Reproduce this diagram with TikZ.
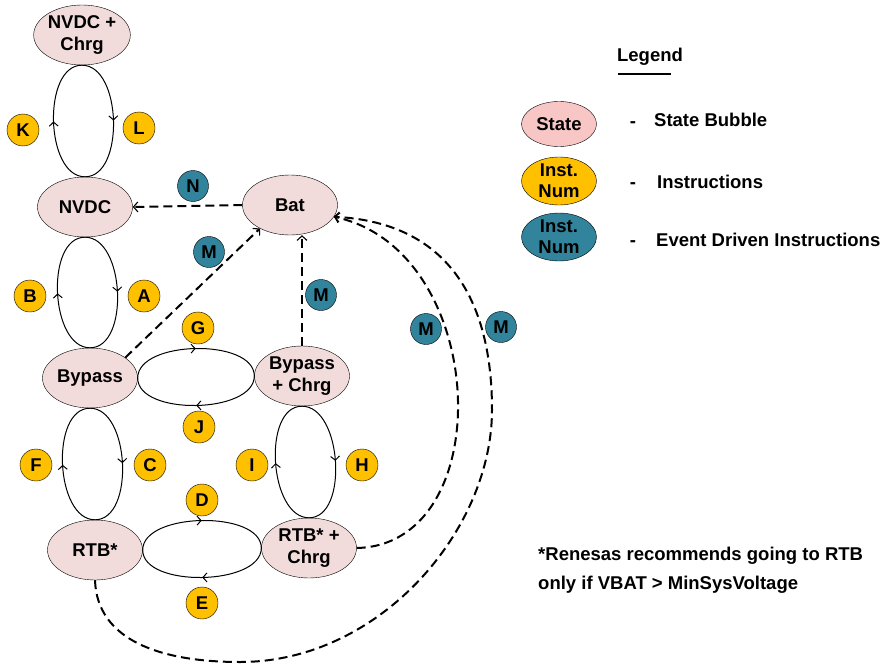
\documentclass[tikz,border=0pt]{standalone}
\usepackage{fontspec}
\setmainfont{Liberation Sans}
\usetikzlibrary{shapes.geometric,arrows.meta,decorations.markings}
\definecolor{statepink}{HTML}{F2DCDB}
\definecolor{legpink}{HTML}{F9C6C6}
\definecolor{instyellow}{HTML}{FFC000}
\definecolor{eventteal}{HTML}{31849B}
\begin{document}
\begin{tikzpicture}[x=1pt, y=-1pt, font=\fontsize{18.5}{22}\selectfont\bfseries,
	state/.style={ellipse, draw=black, fill=statepink, minimum width=95pt, minimum height=60pt, inner sep=0pt, align=center},
	inst/.style={circle, draw=black, fill=instyellow, minimum size=32pt, inner sep=0pt},
	event/.style={circle, draw=black, fill=eventteal, minimum size=31pt, inner sep=0pt},
	loopline/.style={line width=1pt, postaction={decorate}, decoration={markings, mark=at position 0.5 with {\arrow{Straight Barb[length=4pt,width=9pt,line width=1pt]}}}},
	evline/.style={line width=2pt, dash pattern=on 9pt off 5pt, -{Straight Barb[length=4.5pt,width=10pt,line width=1.1pt]}},
	txt/.style={inner sep=0pt, anchor=west}]
	\useasboundingbox (0,0) rectangle (883,666);

	\node[state] (nvdcc) at (82,35) {NVDC +\\Chrg};
	\node[state] (nvdc) at (85,207) {NVDC};
	\node[state] (bat) at (290,205) {Bat};
	\node[state] (bypass) at (90,378) {Bypass};
	\node[state] (bypassc) at (302,376) {Bypass\\+ Chrg};
	\node[state] (rtb) at (95,550) {RTB*};
	\node[state] (rtbc) at (309,548) {RTB* +\\Chrg};

	\draw[loopline] (nvdcc.south) .. controls +(40,0) and +(40,0) .. (nvdc.north);
	\draw[loopline] (nvdc.north) .. controls +(-40,0) and +(-40,0) .. (nvdcc.south);
	\draw[loopline] (nvdc.south) .. controls +(40,0) and +(40,0) .. (bypass.north);
	\draw[loopline] (bypass.north) .. controls +(-40,0) and +(-40,0) .. (nvdc.south);
	\draw[loopline] (bypass.south) .. controls +(40,0) and +(40,0) .. (rtb.north);
	\draw[loopline] (rtb.north) .. controls +(-40,0) and +(-40,0) .. (bypass.south);
	\draw[loopline] (bypassc.south) .. controls +(40,0) and +(40,0) .. (rtbc.north);
	\draw[loopline] (rtbc.north) .. controls +(-40,0) and +(-40,0) .. (bypassc.south);
	\draw[loopline] (bypass.east) .. controls +(0,-38) and +(0,-38) .. (bypassc.west);
	\draw[loopline] (bypassc.west) .. controls +(0,38) and +(0,38) .. (bypass.east);
	\draw[loopline] (rtb.east) .. controls +(0,-38) and +(0,-38) .. (rtbc.west);
	\draw[loopline] (rtbc.west) .. controls +(0,38) and +(0,38) .. (rtb.east);

	\coordinate (low) at (240,662);
	\coordinate (far) at (492,410);
	\draw[evline] (bat.west) -- (nvdc.east);
	\draw[evline] (bypass.30) -- (bat.218);
	\draw[evline] (bypassc.north) -- (bypassc.north |- bat.south);
	\draw[evline] (rtbc.east) .. controls (500,545) and (490,250) .. (bat.-15);
	\draw[evline] (rtb.south) .. controls (97,640) and (160,662) .. (low)
		.. controls (380,662) and (492,530) .. (far)
		.. controls (492,290) and (440,222) .. (bat.-15);

	\node[inst] (k) at (23,130) {K};
	\node[inst] (l) at (139,128) {L};
	\node[inst] (b) at (30,296) {B};
	\node[inst] (a) at (144,296) {A};
	\node[inst] (g) at (198,328) {G};
	\node[inst] (j) at (199,427) {J};
	\node[inst] (f) at (36,465) {F};
	\node[inst] (c) at (150,465) {C};
	\node[inst] (i) at (252,465) {I};
	\node[inst] (h) at (362,465) {H};
	\node[inst] (d) at (202,500) {D};
	\node[inst] (e) at (202,603) {E};

	\node[event] (n) at (193,186) {N};
	\node[event] (m1) at (209,252) {M};
	\node[event] (m2) at (321,295) {M};
	\node[event] (m3) at (426,329) {M};
	\node[event] (m4) at (501,327) {M};

	\node (legend) at (650,57) {Legend};
	\draw[line width=1.2pt] (618,74) -- (671,74);
	\node[ellipse, draw=black, fill=legpink, minimum width=75pt, minimum height=45pt, inner sep=0pt] (legstate) at (559,124) {State};
	\node[ellipse, draw=black, fill=instyellow, minimum width=75pt, minimum height=48pt, inner sep=0pt, label={[align=center, font=\fontsize{18.5}{21}\selectfont\bfseries]center:Inst.\\Num}] (leginst) at (559,181) {};
	\node[ellipse, draw=black, fill=eventteal, minimum width=75pt, minimum height=48pt, inner sep=0pt, label={[align=center, font=\fontsize{18.5}{21}\selectfont\bfseries]center:Inst.\\Num}] (legevent) at (559,237) {};
	\node (dash1) at (633,125) {-};
	\node (dash2) at (633,186) {-};
	\node (dash3) at (633,244) {-};
	\node[txt] (legstatetxt) at (654,120) {State Bubble};
	\node[txt] (leginsttxt) at (657,182) {Instructions};
	\node[txt] (legeventtxt) at (656,240) {Event Driven Instructions};

	\node[txt, align=left, font=\fontsize{18.5}{29}\selectfont\bfseries] (note) at (538,570) {*Renesas recommends going to RTB\\only if VBAT > MinSysVoltage};
\end{tikzpicture}
\end{document}
